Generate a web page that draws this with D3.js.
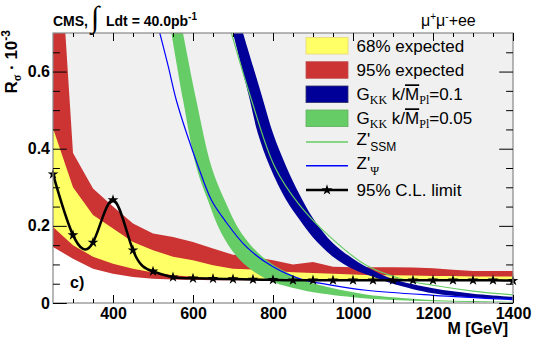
<!DOCTYPE html>
<html>
<head>
<meta charset="utf-8">
<script src="https://cdn.jsdelivr.net/npm/d3@7"></script>
<style>
body { margin: 0; background: #fff; }
text { font-family: "Liberation Sans", Arial, sans-serif; }
</style>
</head>
<body>
<div id="chart"></div>
<script>
// Mass points (GeV) where the limit was computed
const massPts = [250, 300, 350, 400, 450, 500, 550, 600, 650, 700, 750, 800,
                 850, 900, 950, 1000, 1050, 1100, 1150, 1200, 1250, 1300, 1350, 1400];

// Observed 95% CL limit on R_sigma (x 10^-3)
const observed = [0.334, 0.176, 0.157, 0.267, 0.137, 0.082, 0.067, 0.064, 0.063, 0.062, 0.061, 0.060,
                  0.059, 0.059, 0.059, 0.059, 0.059, 0.059, 0.059, 0.059, 0.059, 0.059, 0.059, 0.058];

// Expected bands
const exp95Hi = [1.2, 0.389, 0.297, 0.25, 0.206, 0.18, 0.171, 0.158, 0.141, 0.125, 0.12, 0.111,
                 0.100, 0.106, 0.094, 0.093, 0.093, 0.093, 0.092, 0.090, 0.086, 0.083, 0.083, 0.083];
const exp68Hi = [0.453, 0.30, 0.228, 0.193, 0.158, 0.137, 0.12, 0.111, 0.098, 0.089, 0.087, 0.083,
                 0.080, 0.078, 0.076, 0.074, 0.072, 0.072, 0.071, 0.070, 0.070, 0.069, 0.069, 0.069];
const exp68Lo = [0.197, 0.15, 0.12, 0.102, 0.089, 0.079, 0.072, 0.068, 0.064, 0.062, 0.061, 0.060,
                 0.059, 0.059, 0.059, 0.059, 0.059, 0.059, 0.059, 0.059, 0.059, 0.059, 0.059, 0.058];
const exp95Lo = [0.145, 0.115, 0.089, 0.076, 0.0675, 0.063, 0.061, 0.060, 0.059, 0.059, 0.059, 0.059,
                 0.059, 0.059, 0.059, 0.059, 0.059, 0.059, 0.059, 0.059, 0.059, 0.059, 0.059, 0.058];

// G_KK k/M_Pl = 0.1 band (left and right edges)
const gkk01LoM = [700, 721, 742, 762, 792, 833, 867, 900, 950, 1000, 1050, 1100, 1200, 1300, 1400];
const gkk01LoV = [0.7, 0.614, 0.527, 0.44, 0.354, 0.267, 0.215, 0.17, 0.12, 0.088, 0.068, 0.05, 0.025, 0.014, 0.009];
const gkk01HiM = [725, 750, 775, 800, 833, 867, 900, 950, 1000, 1050, 1100, 1200, 1300, 1400];
const gkk01HiV = [0.7, 0.614, 0.527, 0.44, 0.354, 0.28, 0.22, 0.155, 0.115, 0.085, 0.062, 0.038, 0.024, 0.016];

// G_KK k/M_Pl = 0.05 band
const gkk005LoM = [546, 575, 608, 637, 671, 717, 783, 875, 1000, 1100, 1200, 1300, 1400];
const gkk005LoV = [0.7, 0.527, 0.354, 0.267, 0.181, 0.112, 0.062, 0.033, 0.015, 0.008, 0.0045, 0.0025, 0.0015];
const gkk005HiM = [575, 608, 646, 679, 721, 783, 875, 942, 1033, 1100, 1200, 1300, 1400];
const gkk005HiV = [0.7, 0.527, 0.354, 0.267, 0.181, 0.112, 0.06, 0.04, 0.022, 0.015, 0.008, 0.005, 0.003];

// Z'_SSM and Z'_psi predictions
const zssmM = [696, 746, 804, 867, 942, 1033, 1133, 1200, 1300, 1400];
const zssmV = [0.7, 0.527, 0.354, 0.253, 0.172, 0.098, 0.059, 0.046, 0.031, 0.021];
const zpsiM = [517, 538, 558, 584, 613, 646, 679, 733, 800, 870, 942, 1033, 1200, 1400];
const zpsiV = [0.7, 0.614, 0.527, 0.44, 0.354, 0.267, 0.215, 0.146, 0.094, 0.062, 0.047, 0.033, 0.02, 0.009];

// Axis ticks
const xTicks = [400, 600, 800, 1000, 1200, 1400];
const xMinor = [300, 350, 450, 500, 550, 650, 700, 750, 850, 900, 950, 1050, 1100, 1150, 1250, 1300, 1350];
const yTicks = [0, 0.2, 0.4, 0.6];
const yMinor = [0.05, 0.1, 0.15, 0.25, 0.3, 0.35, 0.45, 0.5, 0.55, 0.65];

// Set the dimensions and margins of the graph
const margin = {top: 33, right: 27, bottom: 34, left: 53};
const width = 540 - margin.left - margin.right;
const height = 337 - margin.top - margin.bottom;

const svg0 = d3.select("#chart")
    .append("svg")
    .attr("width", 540)
    .attr("height", 337);

const svg = svg0.append("g")
    .attr("transform", `translate(${margin.left}, ${margin.top})`);

const x = d3.scaleLinear().domain([250, 1400]).range([0, width]);
const y = d3.scaleLinear().domain([0, 0.7]).range([height, 0]);

svg.append("clipPath").attr("id", "clip")
    .append("rect").attr("width", width).attr("height", height);

const plot = svg.append("g").attr("clip-path", "url(#clip)");

// excluded region above the observed limit
plot.append("path")
    .datum(massPts)
    .attr("fill", "#f0f0f0")
    .attr("d", d3.area()
        .x(d => x(d))
        .y0(0)
        .y1((d, i) => y(observed[i]))
        .curve(d3.curveNatural));

// expected bands
function bandArea(lo, hi) {
    return d3.area()
        .x(d => x(d))
        .y0((d, i) => y(lo[i]))
        .y1((d, i) => y(hi[i]))(massPts);
}
plot.append("path").attr("fill", "#cc3333").attr("d", bandArea(exp95Lo, exp95Hi));
plot.append("path").attr("fill", "#ffff66").attr("d", bandArea(exp68Lo, exp68Hi));

// signal bands, built from their left and right edges
const edge = d3.line().x(d => x(d[0])).y(d => y(d[1])).curve(d3.curveCatmullRom);
function signalBand(loM, loV, hiM, hiV) {
    const hi = hiM.map((m, i) => [m, hiV[i]]);
    const lo = loM.map((m, i) => [m, loV[i]]).reverse();
    return edge(lo) + edge(hi).replace(/^M/, "L") + "Z";
}
plot.append("path").attr("fill", "#66cc66")
    .attr("d", signalBand(gkk005LoM, gkk005LoV, gkk005HiM, gkk005HiV));
plot.append("path").attr("fill", "#000099")
    .attr("d", signalBand(gkk01LoM, gkk01LoV, gkk01HiM, gkk01HiV));

// Z' lines
plot.append("path")
    .datum(zssmM.map((m, i) => [m, zssmV[i]]))
    .attr("fill", "none").attr("stroke", "#66cc66").attr("stroke-width", 1.2)
    .attr("d", edge);
plot.append("path")
    .datum(zpsiM.map((m, i) => [m, zpsiV[i]]))
    .attr("fill", "none").attr("stroke", "#0000ff").attr("stroke-width", 1.2)
    .attr("d", edge);

// observed limit
plot.append("path")
    .datum(massPts)
    .attr("fill", "none").attr("stroke", "#000").attr("stroke-width", 2.5)
    .attr("d", d3.line().x(d => x(d)).y((d, i) => y(observed[i])).curve(d3.curveNatural));

svg.selectAll(".star")
    .data(massPts)
    .enter()
    .append("path")
    .attr("class", "star")
    .attr("transform", (d, i) => `translate(${x(d)}, ${y(observed[i])})`)
    .attr("d", d3.symbol(d3.symbolStar, 36))
    .attr("fill", "#000");

// frame
svg.append("rect")
    .attr("width", width).attr("height", height)
    .attr("fill", "none").attr("stroke", "#888").attr("stroke-width", 1.2);

// axes: major and minor ticks on all four sides
const xLen = 8, yLen = 13.8;
function styleAxis(g) {
    g.select(".domain").remove();
    g.selectAll(".tick line").attr("stroke", "#000");
}
svg.append("g")
    .attr("transform", `translate(0, ${height})`)
    .call(d3.axisBottom(x).tickValues(xTicks).tickSize(-xLen).tickPadding(5).tickFormat(d3.format("d")))
    .call(styleAxis)
    .selectAll("text")
    .style("font-size", "16px").style("font-weight", "bold").attr("fill", "#000")
    .style("font-family", "Liberation Sans, Arial, sans-serif");
svg.append("g")
    .attr("transform", `translate(0, ${height})`)
    .call(d3.axisBottom(x).tickValues(xMinor).tickSize(-xLen / 2).tickFormat(""))
    .call(styleAxis);
svg.append("g")
    .call(d3.axisTop(x).tickValues(xTicks).tickSize(-xLen).tickFormat(""))
    .call(styleAxis);
svg.append("g")
    .call(d3.axisTop(x).tickValues(xMinor).tickSize(-xLen / 2).tickFormat(""))
    .call(styleAxis);

svg.append("g")
    .call(d3.axisLeft(y).tickValues(yTicks).tickSize(-yLen).tickPadding(3)
        .tickFormat(d => d === 0 ? "0" : d3.format(".1f")(d)))
    .call(styleAxis)
    .selectAll("text")
    .style("font-size", "16px").style("font-weight", "bold").attr("fill", "#000")
    .style("font-family", "Liberation Sans, Arial, sans-serif");
svg.append("g")
    .call(d3.axisLeft(y).tickValues(yMinor).tickSize(-yLen / 2).tickFormat(""))
    .call(styleAxis);
svg.append("g")
    .attr("transform", `translate(${width}, 0)`)
    .call(d3.axisRight(y).tickValues(yTicks).tickSize(-yLen).tickFormat(""))
    .call(styleAxis);
svg.append("g")
    .attr("transform", `translate(${width}, 0)`)
    .call(d3.axisRight(y).tickValues(yMinor).tickSize(-yLen / 2).tickFormat(""))
    .call(styleAxis);

// axis titles
svg0.append("text")
    .attr("x", 508).attr("y", 334)
    .attr("text-anchor", "end")
    .style("font-size", "16px").style("font-weight", "bold")
    .text("M [GeV]");

const yTitle = svg0.append("text")
    .attr("transform", "translate(17, 30) rotate(-90)")
    .attr("text-anchor", "end")
    .style("font-size", "17px").style("font-weight", "bold");
yTitle.append("tspan").text("R");
yTitle.append("tspan").attr("dy", 4).style("font-size", "12px").style("font-family", "Liberation Serif, serif").text("σ");
yTitle.append("tspan").attr("dy", -4).text(" · 10");
yTitle.append("tspan").attr("dy", -7).style("font-size", "12px").text("-3");

// header
svg0.append("text").attr("x", 53).attr("y", 26)
    .style("font-size", "14px").style("font-weight", "bold").text("CMS,");
svg0.append("text").attr("x", 91).attr("y", 27)
    .style("font-size", "30px").style("font-family", "Liberation Serif, serif").text("∫");
const lumi = svg0.append("text").attr("x", 106).attr("y", 26)
    .style("font-size", "14px").style("font-weight", "bold");
lumi.append("tspan").text("Ldt = 40.0pb");
lumi.append("tspan").attr("dy", -6).style("font-size", "10px").text("-1");

const chan = svg0.append("text").attr("x", 421).attr("y", 26).style("font-size", "16px");
chan.append("tspan").text("μ");
chan.append("tspan").attr("dy", -6).style("font-size", "10px").text("+");
chan.append("tspan").attr("dy", 6).text("μ");
chan.append("tspan").attr("dy", -6).style("font-size", "10px").text("-");
chan.append("tspan").attr("dy", 6).text("+ee");

svg0.append("text").attr("x", 70).attr("y", 288)
    .style("font-size", "16px").style("font-weight", "bold").text("c)");

// legend
const legendRows = [45.7, 70, 94.3, 118.3, 142, 165.7, 190];
const lx = 306, lw = 42, tx = 356.5;
const leg = svg0.append("g");
const boxes = [["#ffff66", "#e8d870"], ["#cc3333", "#c05050"], ["#000099", "#333366"], ["#66cc66", "#60b060"]];
boxes.forEach((c, i) => {
    leg.append("rect")
        .attr("x", lx).attr("y", legendRows[i] - 8.3)
        .attr("width", lw).attr("height", 16.6)
        .attr("fill", c[0]).attr("stroke", c[1]).attr("stroke-width", 0.8);
});
leg.append("line").attr("x1", lx).attr("x2", lx + lw)
    .attr("y1", legendRows[4]).attr("y2", legendRows[4])
    .attr("stroke", "#66cc66").attr("stroke-width", 1.5);
leg.append("line").attr("x1", lx).attr("x2", lx + lw)
    .attr("y1", legendRows[5]).attr("y2", legendRows[5])
    .attr("stroke", "#0000ff").attr("stroke-width", 1.5);
leg.append("line").attr("x1", lx).attr("x2", lx + lw)
    .attr("y1", legendRows[6]).attr("y2", legendRows[6])
    .attr("stroke", "#000").attr("stroke-width", 2.5);
leg.append("path")
    .attr("transform", `translate(${lx + lw / 2}, ${legendRows[6]})`)
    .attr("d", d3.symbol(d3.symbolStar, 36));

function legText(i) {
    return leg.append("text").attr("x", tx).attr("y", legendRows[i] + 6).style("font-size", "17px");
}
legText(0).text("68% expected");
legText(1).text("95% expected");
[["0.1", 2], ["0.05", 3]].forEach(([k, i]) => {
    const t = legText(i);
    t.append("tspan").text("G");
    t.append("tspan").attr("dy", 4).style("font-size", "12px").style("font-family", "Liberation Serif, serif").text("KK");
    t.append("tspan").attr("dy", -4).text(" k/");
    t.append("tspan").style("text-decoration", "overline").text("M");
    t.append("tspan").attr("dy", 4).style("font-size", "12px").style("font-family", "Liberation Serif, serif").text("Pl");
    t.append("tspan").attr("dy", -4).text("=" + k);
});
const tz1 = leg.append("text").attr("x", tx).attr("y", legendRows[4] + 3).style("font-size", "17px");
tz1.append("tspan").text("Z'");
tz1.append("tspan").attr("dy", 6).style("font-size", "12px").text("SSM");
const tz2 = leg.append("text").attr("x", tx).attr("y", legendRows[5] + 3).style("font-size", "17px");
tz2.append("tspan").text("Z'");
tz2.append("tspan").attr("dy", 6).style("font-size", "12px").style("font-family", "Liberation Serif, serif").text("Ψ");
legText(6).text("95% C.L. limit");
</script>
</body>
</html>
